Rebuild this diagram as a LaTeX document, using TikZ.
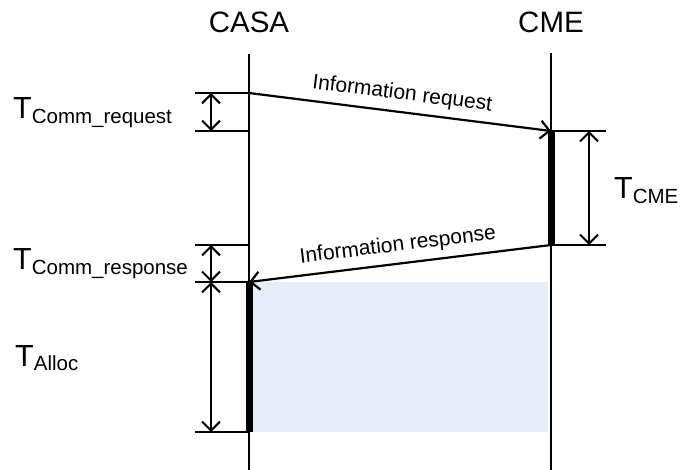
\documentclass[tikz,border=0pt]{standalone}
\usepackage{fontspec}
\setmainfont{Liberation Sans}
\usetikzlibrary{arrows.meta}
\definecolor{allocblue}{RGB}{230,237,248}
\newcommand{\tlab}[1]{{\fontsize{30.5}{30}\selectfont T}\raisebox{-5pt}{\fontsize{20.5}{20}\selectfont #1}}

\begin{document}
\begin{tikzpicture}[x=1pt,y=-1pt,>={Straight Barb[length=9pt,width=18pt]},
    lifeline/.style={line width=2pt},
    msg/.style={line width=2.2pt},
    bar/.style={line width=7pt},
    tick/.style={line width=2pt},
    dim/.style={<->,line width=2pt},
    head/.style={font=\fontsize{29.5}{29}\selectfont,anchor=base,inner sep=0pt},
    msglabel/.style={font=\fontsize{21}{21}\selectfont,sloped,above,inner sep=7pt},
    tlabel/.style={anchor=base west,inner sep=0pt}]
  \useasboundingbox (0,0) rectangle (680,470);

  % lifelines
  \node[head] (casa) at (249,33) {CASA};
  \node[head] (cme)  at (551,33) {CME};
  \coordinate (casatop) at (249,54);
  \coordinate (casabot) at (249,470);
  \coordinate (cmetop)  at (551,53);
  \coordinate (cmebot)  at (551,470);

  % message points
  \coordinate (reqs)   at (249,93);
  \coordinate (reqe)   at (551,131);
  \coordinate (ress)   at (551,245);
  \coordinate (rese)   at (249,282);
  \coordinate (alloce) at (249,432);

  \fill[allocblue] (252,282) rectangle (548,432);

  \draw[lifeline] (casatop) -- (casabot);
  \draw[lifeline] (cmetop) -- (cmebot);

  \draw[bar] (reqe) -- (ress);
  \draw[bar] (rese) -- (alloce);

  \draw[msg,->] (reqs) -- node[msglabel] {Information request} (reqe);
  \draw[msg,<-] (rese) -- node[msglabel] {Information response} (ress);

  % timing marks
  \coordinate (l1) at (195,93);
  \coordinate (l2) at (195,131);
  \coordinate (l3) at (195,245);
  \coordinate (l4) at (195,282);
  \coordinate (l5) at (195,432);
  \coordinate (r1) at (606,131);
  \coordinate (r2) at (606,245);
  \draw[tick] (l1) -- (reqs);
  \draw[tick] (l2) -- (249,131);
  \draw[tick] (l3) -- (249,245);
  \draw[tick] (l4) -- (rese);
  \draw[tick] (l5) -- (alloce);
  \draw[tick] (reqe) -- (r1);
  \draw[tick] (ress) -- (r2);

  \draw[dim] (211,93) -- (211,131);
  \draw[dim] (211,245) -- (211,282);
  \draw[dim] (211,282) -- (211,432);
  \draw[dim] (589,131) -- (589,245);

  \node[tlabel] (treq)   at (13,119)  {\tlab{Comm\_request}};
  \node[tlabel] (tres)   at (13,270)  {\tlab{Comm\_response}};
  \node[tlabel] (talloc) at (15,366)  {\tlab{Alloc}};
  \node[tlabel] (tcme)   at (614,199) {\tlab{CME}};
\end{tikzpicture}
\end{document}
